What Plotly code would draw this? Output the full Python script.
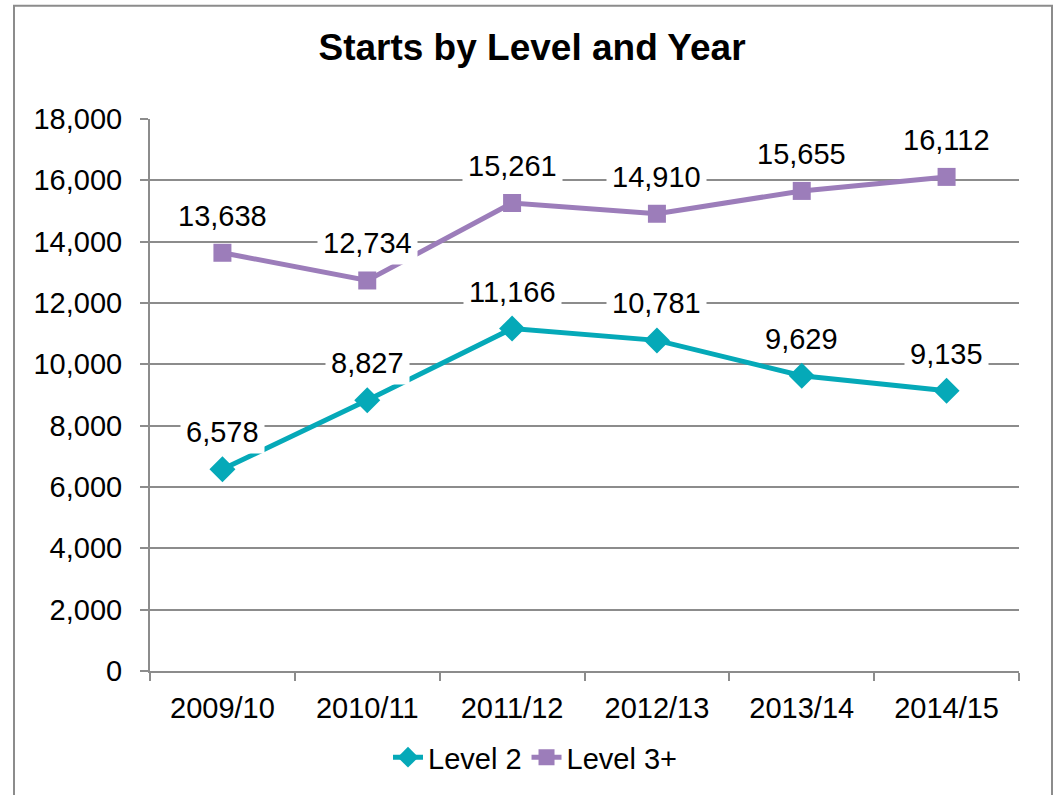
import plotly.graph_objects as go

years = ["2009/10", "2010/11", "2011/12", "2012/13", "2013/14", "2014/15"]
level2 = [6578, 8827, 11166, 10781, 9629, 9135]
level3 = [13638, 12734, 15261, 14910, 15655, 16112]
series_names = ["Level 2", "Level 3+"]

W, H = 1056, 795
ML, MR, MT, MB = 150, 37, 119, 120
PW, PH = W - ML - MR, H - MT - MB

teal = "#05A9B8"
purple = "#9C7DBA"
grid = "#8C8C8C"
FONT = "Liberation Sans, Arial, sans-serif"
FS = 29

fig = go.Figure()
fig.add_trace(go.Scatter(x=years, y=level2, name=series_names[0], mode="lines+markers",
                         line=dict(color=teal, width=5),
                         marker=dict(symbol="diamond", size=20, color=teal)))
fig.add_trace(go.Scatter(x=years, y=level3, name=series_names[1], mode="lines+markers",
                         line=dict(color=purple, width=5),
                         marker=dict(symbol="square", size=18, color=purple)))

anns = []
for ys in (level2, level3):
    for x, y in zip(years, ys):
        anns.append(dict(x=x, y=y, xref="x", yref="y", text=f"{y:,}", showarrow=False,
                         yshift=37, bgcolor="white", borderpad=5,
                         font=dict(family=FONT, size=FS, color="black")))
fig.update_layout(annotations=anns)

# chart border
def px2x(px):
    return (px - ML) / PW

def px2y(py):
    return 1 - (py - MT) / PH

fig.add_shape(type="rect", xref="paper", yref="paper",
              x0=px2x(14), x1=px2x(1052), y0=px2y(810), y1=px2y(5),
              line=dict(color="#8C8C8C", width=2), fillcolor="rgba(0,0,0,0)", layer="below")

fig.update_layout(
    width=W, height=H,
    margin=dict(l=ML, r=MR, t=MT, b=MB),
    paper_bgcolor="white", plot_bgcolor="white",
    font=dict(family=FONT, size=FS, color="black"),
    title=dict(text="<b>Starts by Level and Year</b>", x=532 / W, xref="container", xanchor="center",
               y=1 - 47 / H, yref="container", yanchor="middle",
               font=dict(family=FONT, size=37, color="black")),
    showlegend=True,
    legend=dict(orientation="h", x=px2x(535), xanchor="center", y=px2y(762), yanchor="middle",
                font=dict(family=FONT, size=FS, color="black"), itemwidth=30,
                bgcolor="rgba(0,0,0,0)"),
    xaxis=dict(type="category", showgrid=False, showline=True, linecolor=grid, linewidth=2,
               ticks="outside", tickson="boundaries", ticklen=8, tickcolor=grid, tickwidth=2,
               tickfont=dict(family=FONT, size=FS, color="black"), range=[-0.5, 5.5],
               zeroline=False, ticklabelstandoff=10),
    yaxis=dict(range=[0, 18000], dtick=2000, tickformat=",d", showgrid=True, gridcolor=grid,
               gridwidth=2, showline=True, linecolor=grid, linewidth=2, ticks="outside",
               ticklen=8, tickcolor=grid, tickwidth=2, zeroline=False,
               tickfont=dict(family=FONT, size=FS, color="black"), ticklabelstandoff=12),
)

fig.write_html("out.html")
